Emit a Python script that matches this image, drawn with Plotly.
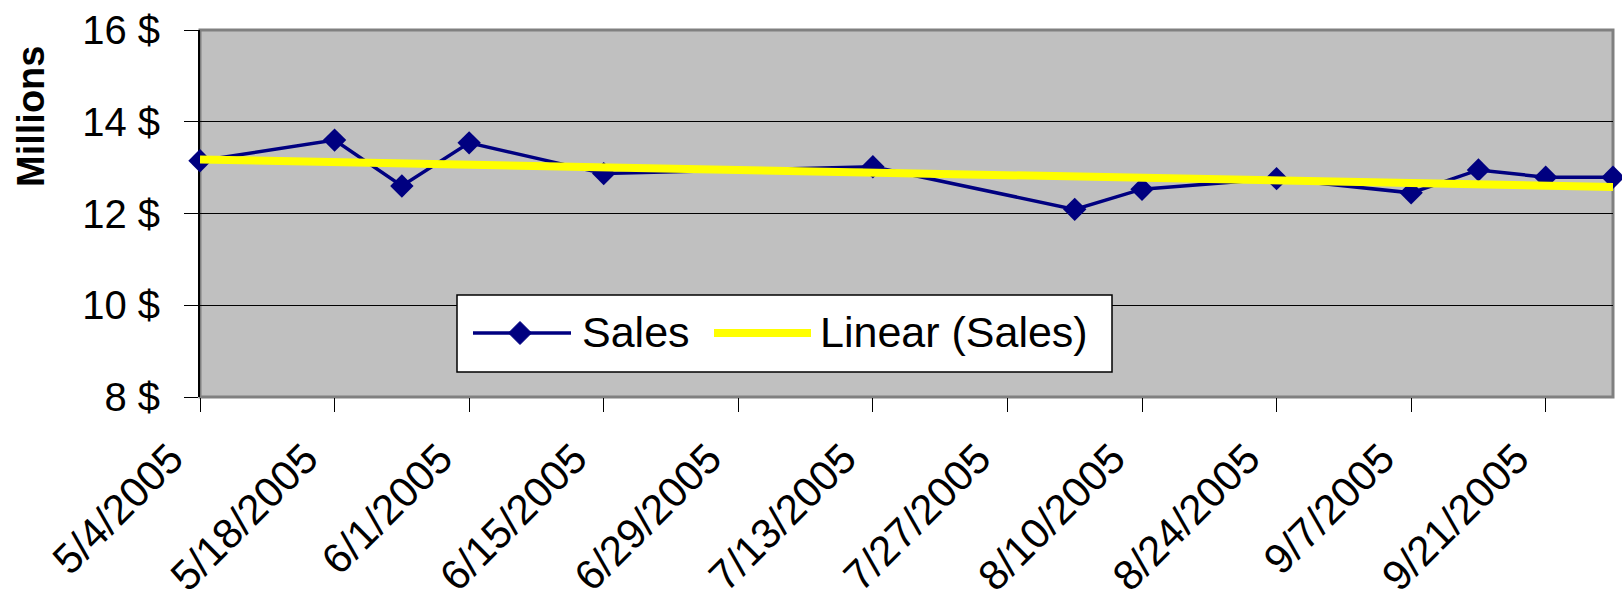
import numpy as np
import pandas as pd
import plotly.graph_objects as go

# ---- data ----
dates = ["2005-05-04", "2005-05-18", "2005-05-25", "2005-06-01", "2005-06-15",
         "2005-07-13", "2005-08-03", "2005-08-10", "2005-08-24", "2005-09-07",
         "2005-09-14", "2005-09-21", "2005-09-28"]
sales = [13.15, 13.60, 12.60, 13.54, 12.87, 13.02, 12.09, 12.53, 12.76, 12.45,
         12.95, 12.79, 12.79]
y_ticks = [8, 10, 12, 14, 16]
y_tick_labels = ["8 $", "10 $", "12 $", "14 $", "16 $"]
series_names = ["Sales", "Linear (Sales)"]

# linear trendline (least squares, like Excel's "Linear" trendline)
d = pd.to_datetime(dates)
days = np.array([(t - d[0]).days for t in d], dtype=float)
slope, icpt = np.polyfit(days, np.array(sales), 1)
trend = icpt + slope * days

# ---- layout geometry (pixels) ----
FW, FH = 1622, 602
PL, PR, PT, PB = 200, 1613, 30, 397
W, H = PR - PL, PB - PT


def px(x):
    return (x - PL) / W


def py(y):
    return (PB - y) / H


NAVY = "#000080"
YEL = "#FFFF00"
FONT = "Liberation Sans, Arial, sans-serif"

fig = go.Figure()
fig.add_trace(go.Scatter(
    x=dates, y=sales, mode="lines+markers", name=series_names[0],
    line=dict(color=NAVY, width=3.5),
    marker=dict(symbol="diamond", size=18, color=NAVY),
    cliponaxis=False, showlegend=False))
fig.add_trace(go.Scatter(
    x=[dates[0], dates[-1]], y=[trend[0], trend[-1]], mode="lines",
    name=series_names[1], line=dict(color=YEL, width=8),
    cliponaxis=False, showlegend=False))

shapes = []
# plot-area border
shapes.append(dict(type="rect", xref="paper", yref="paper", x0=0, x1=1, y0=0, y1=1,
                   line=dict(color="#808080", width=3), layer="between"))
# custom legend
lx0, lx1, ly0, ly1 = 457, 1112, 295, 372
shapes.append(dict(type="rect", xref="paper", yref="paper",
                   x0=px(lx0), x1=px(lx1), y0=py(ly1), y1=py(ly0),
                   line=dict(color="black", width=1.5), fillcolor="white", layer="above"))
ly = 333
shapes.append(dict(type="line", xref="paper", yref="paper",
                   x0=px(473), x1=px(571), y0=py(ly), y1=py(ly),
                   line=dict(color=NAVY, width=3.5), layer="above"))
cx, r = 520, 11.5
path = (f"M {px(cx - r)} {py(ly)} L {px(cx)} {py(ly - r)} "
        f"L {px(cx + r)} {py(ly)} L {px(cx)} {py(ly + r)} Z")
shapes.append(dict(type="path", xref="paper", yref="paper", path=path,
                   fillcolor=NAVY, line=dict(color=NAVY, width=1), layer="above"))
shapes.append(dict(type="line", xref="paper", yref="paper",
                   x0=px(714), x1=px(811), y0=py(ly), y1=py(ly),
                   line=dict(color=YEL, width=8), layer="above"))

annotations = [
    dict(text=series_names[0], xref="paper", yref="paper", x=px(580), y=py(ly - 1),
         xanchor="left", yanchor="middle", showarrow=False,
         font=dict(family=FONT, size=43, color="black")),
    dict(text=series_names[1], xref="paper", yref="paper", x=px(818), y=py(ly - 1),
         xanchor="left", yanchor="middle", showarrow=False,
         font=dict(family=FONT, size=43, color="black")),
    dict(text="<b>Millions</b>", xref="paper", yref="paper", x=px(31), y=py(117),
         xanchor="center", yanchor="middle", textangle=-90, showarrow=False,
         font=dict(family=FONT, size=38, color="black")),
]

fig.update_layout(
    width=FW, height=FH,
    margin=dict(l=PL, r=FW - PR, t=PT, b=FH - PB, pad=0, autoexpand=False),
    paper_bgcolor="white", plot_bgcolor="#C0C0C0",
    showlegend=False,
    shapes=shapes, annotations=annotations,
    font=dict(family=FONT, color="black"),
)
fig.update_xaxes(
    type="date", range=[dates[0], dates[-1]],
    tick0=dates[0], dtick=14 * 86400000, tickformat="%-m/%-d/%Y",
    tickangle=-45, ticks="outside", ticklen=14, tickcolor="black", tickwidth=1,
    showgrid=False, zeroline=False, showline=False, automargin=False,
    ticklabelstandoff=5, ticklabelshift=-29,
    tickfont=dict(family=FONT, size=42, color="black"),
)
fig.update_yaxes(
    range=[8, 16], tickmode="array", tickvals=y_ticks, ticktext=y_tick_labels,
    ticks="outside", ticklen=14, tickcolor="black", tickwidth=1,
    showgrid=True, gridcolor="black", gridwidth=1, zeroline=False,
    showline=True, linecolor="black", linewidth=2, layer="below traces",
    automargin=False, ticklabelstandoff=16,
    tickfont=dict(family=FONT, size=40, color="black"),
)

fig.write_html("out.html")
